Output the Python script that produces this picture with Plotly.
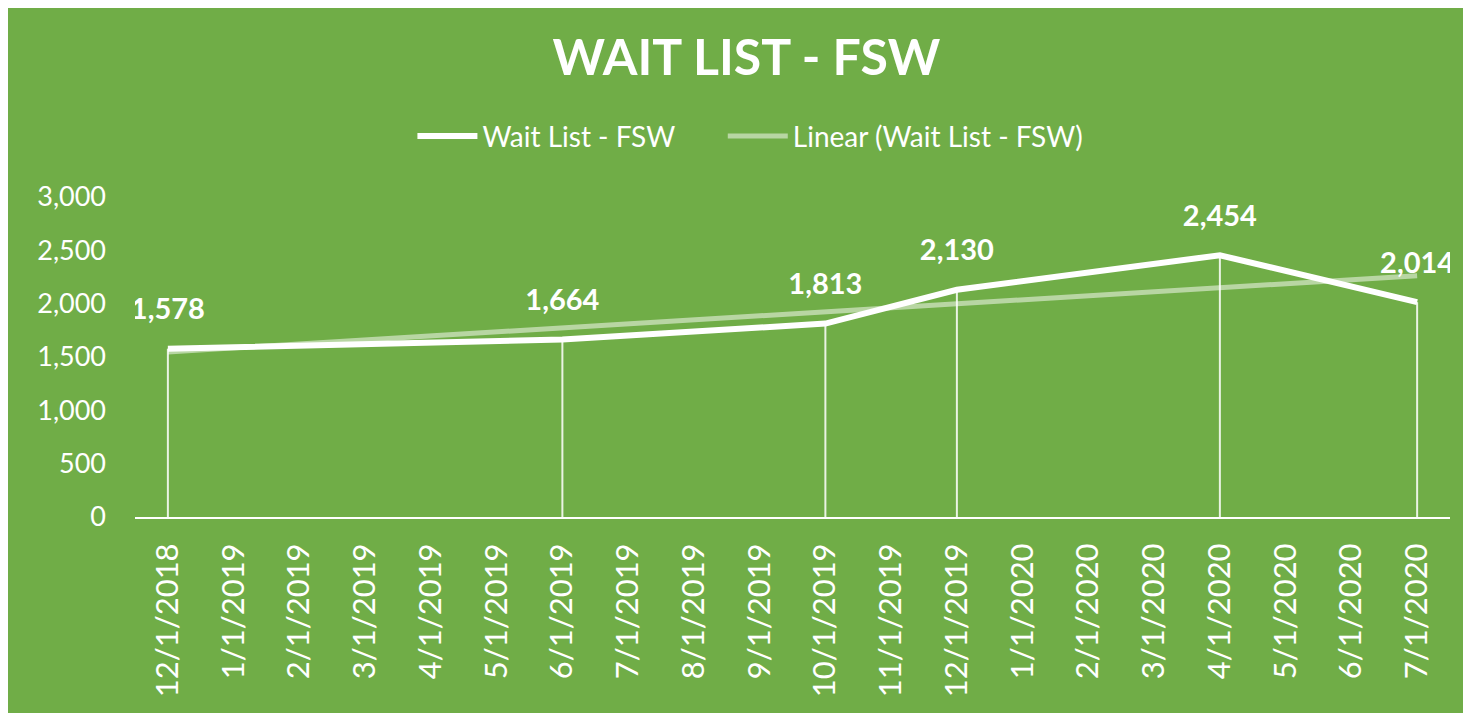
import plotly.graph_objects as go
import numpy as np

# monthly category axis shown by Excel
months = ['12/1/2018', '1/1/2019', '2/1/2019', '3/1/2019', '4/1/2019', '5/1/2019',
          '6/1/2019', '7/1/2019', '8/1/2019', '9/1/2019', '10/1/2019', '11/1/2019',
          '12/1/2019', '1/1/2020', '2/1/2020', '3/1/2020', '4/1/2020', '5/1/2020',
          '6/1/2020', '7/1/2020']

dates = ['12/1/2018', '6/1/2019', '10/1/2019', '12/1/2019', '4/1/2020', '7/1/2020']
wait_list = [1578, 1664, 1813, 2130, 2454, 2014]

GREEN = '#70AD47'
FONT = 'Lato'

# linear trendline (Excel "Linear" trendline) fitted on month index
idx = [months.index(d) for d in dates]
slope, intercept = np.polyfit(idx, wait_list, 1)
trend_y = [intercept + slope * i for i in (idx[0], idx[-1])]
trend_x = [dates[0], dates[-1]]

fig = go.Figure()

# drop lines
fig.add_trace(go.Scatter(
    x=dates, y=wait_list, mode='markers',
    marker=dict(size=1, color='rgba(0,0,0,0)'),
    error_y=dict(type='data', symmetric=False, array=[0] * len(wait_list),
                 arrayminus=wait_list, color='rgba(255,255,255,0.85)',
                 thickness=2, width=0),
    showlegend=False, hoverinfo='skip'))

fig.add_trace(go.Scatter(
    x=dates, y=wait_list, mode='lines+markers+text',
    name='Wait List - FSW' + '\u00a0' * 6,
    line=dict(color='white', width=6),
    marker=dict(size=34, color='rgba(0,0,0,0)'),
    text=[f'{v:,}' for v in wait_list], textposition='top center',
    textfont=dict(family=FONT, size=29, color='white', weight='bold')))

fig.add_trace(go.Scatter(
    x=trend_x, y=trend_y, mode='lines', name='Linear (Wait List - FSW)',
    line=dict(color='rgba(255,255,255,0.5)', width=5)))

fig.update_layout(
    width=1471, height=713,
    paper_bgcolor=GREEN, plot_bgcolor=GREEN,
    margin=dict(l=127, r=29, t=189, b=204),
    font=dict(family=FONT, color='white', size=22),
    title=dict(text='<b>WAIT LIST - FSW</b>', x=0.502, xanchor='center',
               y=0.93, yanchor='middle',
               font=dict(family=FONT, size=50, color='white')),
    legend=dict(orientation='h', x=0.468, xanchor='center', y=1.19, yanchor='middle',
                font=dict(family=FONT, size=28, color='white'),
                bgcolor='rgba(0,0,0,0)', itemwidth=60, traceorder='normal'),
    showlegend=True,
)

fig.update_xaxes(type='category', categoryorder='array', categoryarray=months,
                 range=[-0.5, len(months) - 0.5], tickangle=-90,
                 showgrid=False, showline=True, linecolor='white', linewidth=2,
                 ticks='', ticklabelstandoff=12,
                 tickfont=dict(family=FONT, size=31, color='white'))
fig.update_yaxes(range=[0, 3000], dtick=500, tickformat=',', showgrid=False,
                 zeroline=False, showline=False, ticks='', ticklabelstandoff=28,
                 tickfont=dict(family=FONT, size=27, color='white'))

fig.write_html('out.html')
